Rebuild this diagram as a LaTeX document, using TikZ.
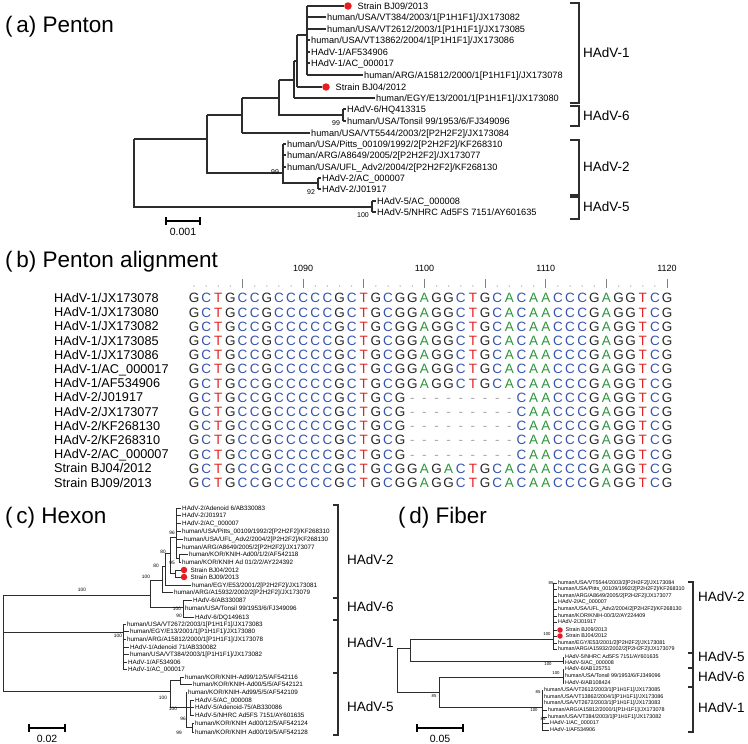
\documentclass[tikz,border=0pt]{standalone}
\usepackage{fontspec}
\setmainfont{Liberation Sans}
\usepackage{tikz}
\usetikzlibrary{positioning}
\definecolor{treegray}{RGB}{45,45,45}
\definecolor{strainred}{RGB}{230,30,36}
\definecolor{baseG}{RGB}{40,40,40}
\definecolor{baseC}{RGB}{55,85,175}
\definecolor{baseT}{RGB}{225,35,35}
\definecolor{baseA}{RGB}{45,150,60}
\definecolor{gapgray}{RGB}{170,170,170}

\tikzset{
  paneltitle/.style={anchor=west, inner sep=0pt, text height=16pt, text depth=0pt, font=\fontsize{22.5}{24}\selectfont},
  branch/.style={draw=treegray, line width=1.1pt},
  thinbranch/.style={draw=treegray, line width=0.85pt},
  leafa/.style={anchor=west, inner sep=1pt, text height=6.6pt, text depth=0pt, font=\fontsize{9.2}{10}\selectfont},
  leafc/.style={anchor=west, inner sep=1pt, text height=4.5pt, text depth=0pt, font=\fontsize{6.3}{7}\selectfont},
  leafd/.style={anchor=west, inner sep=1pt, text height=3.9pt, text depth=0pt, font=\fontsize{5.4}{6}\selectfont},
  boota/.style={inner sep=0pt, font=\fontsize{7}{8}\selectfont},
  bootc/.style={inner sep=0pt, font=\fontsize{4.8}{5}\selectfont},
  bootd/.style={inner sep=0pt, font=\fontsize{4.3}{5}\selectfont},
  strain/.style={circle, fill=strainred, inner sep=0pt},
  clade/.style={anchor=west, inner sep=0pt, text height=9.7pt, text depth=0pt, font=\fontsize{13.5}{15}\selectfont},
  bracket/.style={draw=treegray, line width=1.4pt},
  scalebar/.style={draw=black, line width=2.3pt},
  scaletick/.style={draw=black, line width=1.2pt},
  scalelabel/.style={inner sep=0pt, font=\fontsize{10.5}{12}\selectfont},
  seqname/.style={anchor=west, inner sep=0pt, text height=9.1pt, text depth=0pt, font=\fontsize{12.7}{14}\selectfont},
  rulernum/.style={inner sep=0pt, font=\fontsize{9}{10}\selectfont},
  rulertick/.style={draw=gray, line width=0.8pt},
  base/.style={inner sep=0pt, text height=9.7pt, text depth=0pt, font=\fontsize{13.5}{15}\selectfont},
  base G/.style={text=baseG},
  base C/.style={text=baseC},
  base T/.style={text=baseT},
  base A/.style={text=baseA},
  base -/.style={text=gapgray},
}

% aligned bases, columns 1081--1120
\newcommand{\seqone}{G,C,T,G,C,C,G,C,C,C,C,C,G,C,T,G,C,G,G,A,G,G,C,T,G,C,A,C,A,A,C,C,C,G,A,G,G,T,C,G}
\newcommand{\seqtwo}{G,C,T,G,C,C,G,C,C,C,C,C,G,C,T,G,C,G,-,-,-,-,-,-,-,-,-,C,A,A,C,C,C,G,A,G,G,T,C,G}
\newcommand{\seqbjf}{G,C,T,G,C,C,G,C,C,C,C,C,G,C,T,G,C,G,G,A,G,A,C,T,G,C,A,C,A,A,C,C,C,G,A,G,G,T,C,G}

% one alignment row: row number, label, bases
\newcommand{\seqrow}[3]{%
  \node[seqname] (row#1) at (54,{298+(#1-1)*14.2}) {#2};
  \foreach \nt [count=\col] in #3 {
    \node[base, base \nt] at ({194+(\col-1)*12.13},{298+(#1-1)*14.2}) {\nt};
  }}

\begin{document}
\begin{tikzpicture}[x=1pt, y=-1pt]
  \useasboundingbox (0,0) rectangle (748,744);
  \fill[white] (0,0) rectangle (748,744);

  % (a) Penton tree
  \node[paneltitle] (atitle) at (5,24) {(\,a) Penton};
  \foreach \jx/\ex/\yy/\lab [count=\idx] in {
    307/326/17/{human/USA/VT384/2003/1[P1H1F1]/JX173082},
    307/326/29/{human/USA/VT2612/2003/1[P1H1F1]/JX173085},
    307/310/40/{human/USA/VT13862/2004/1[P1H1F1]/JX173086},
    307/310/52/{HAdV-1/AF534906},
    307/310/63/{HAdV-1/AC\_000017},
    307/363/75/{human/ARG/A15812/2000/1[P1H1F1]/JX173078},
    294/375/98/{human/EGY/E13/2001/1[P1H1F1]/JX173080},
    343/346/109/{HAdV-6/HQ413315},
    343/346/121/{human/USA/Tonsil 99/1953/6/FJ349096},
    242/310/133/{human/USA/VT5544/2003/2[P2H2F2]/JX173084},
    283/286/144/{human/USA/Pitts\_00109/1992/2[P2H2F2]/KF268310},
    283/286/155/{human/ARG/A8649/2005/2[P2H2F2]/JX173077},
    283/286/167/{human/USA/UFL\_Adv2/2004/2[P2H2F2]/KF268130},
    318/321/178/{HAdV-2/AC\_000007},
    318/321/189/{HAdV-2/J01917},
    372/376/201/{HAdV-5/AC\_000008},
    372/376/212/{HAdV-5/NHRC Ad5FS 7151/AY601635}}{
    \node[leafa] (a\idx) at (\ex,\yy) {\lab};
    \draw[branch] (\jx,\yy) -- (a\idx.west);
  }
  \node[strain, minimum size=7.5pt] (adot1) at (348,6) {};
  \node[leafa, right=4.5pt of adot1] (abj09) {Strain BJ09/2013};
  \draw[branch] (307,6) -- (adot1.west);
  \node[strain, minimum size=7.5pt] (adot2) at (326,87) {};
  \node[leafa, right=4.5pt of adot2] (abj04) {Strain BJ04/2012};
  \draw[branch] (297,87) -- (adot2.west);
  \draw[branch] (307,6) -- (307,75);
  \draw[branch] (297,35) -- (307,35);
  \draw[branch] (297,35) -- (297,87);
  \draw[branch] (294,61) -- (297,61);
  \draw[branch] (294,61) -- (294,98);
  \draw[branch] (279,80) -- (294,80);
  \draw[branch] (279,80) -- (279,115) -- (343,115);
  \draw[branch] (343,109) -- (343,121);
  \draw[branch] (242,98) -- (279,98);
  \draw[branch] (242,98) -- (242,133);
  \draw[branch] (207,115) -- (242,115);
  \draw[branch] (207,115) -- (207,173) -- (283,173);
  \draw[branch] (283,144) -- (283,183) -- (318,183);
  \draw[branch] (318,178) -- (318,189);
  \draw[branch] (134,139) -- (207,139);
  \draw[branch] (134,139) -- (134,207) -- (372,207);
  \draw[branch] (372,201) -- (372,212);
  \node[boota] (ab1) at (336,123) {99};
  \node[boota] (ab2) at (275,172) {99};
  \node[boota] (ab3) at (311,192) {92};
  \node[boota] (ab4) at (363,215) {100};
  % scale bar
  \draw[scalebar] (166,221) -- (200,221);
  \draw[scaletick] (166,217) -- (166,225);
  \draw[scaletick] (200,217) -- (200,225);
  \node[scalelabel] (ascale) at (183,232) {0.001};
  % groups
  \draw[bracket] (570,3) -- (579,3) -- (579,103) -- (570,103);
  \draw[bracket] (570,106) -- (579,106) -- (579,126) -- (570,126);
  \draw[bracket] (570,140) -- (579,140) -- (579,195) -- (570,195);
  \draw[bracket] (570,197) -- (579,197) -- (579,219) -- (570,219);
  \node[clade] (ag1) at (583,53) {HAdV-1};
  \node[clade] (ag6) at (583,116) {HAdV-6};
  \node[clade] (ag2) at (583,167) {HAdV-2};
  \node[clade] (ag5) at (583,207) {HAdV-5};

  % (b) Penton alignment
  \node[paneltitle] (btitle) at (5,259) {(\,b) Penton alignment};
  \foreach \col in {1,...,40}{
    \pgfmathtruncatemacro\rem{mod(1080+\col,5)}
    \ifnum\rem=0
      \draw[rulertick] ({194+(\col-1)*12.13},279) -- ++(0,9);
    \else
      \fill[gapgray] ({194+(\col-1)*12.13},286) circle (0.75);
    \fi
  }
  \foreach \num/\col in {1090/10,1100/20,1110/30,1120/40}
    \node[rulernum] (r\num) at ({194+(\col-1)*12.13},268) {\num};
  \seqrow{1}{HAdV-1/JX173078}{\seqone}
  \seqrow{2}{HAdV-1/JX173080}{\seqone}
  \seqrow{3}{HAdV-1/JX173082}{\seqone}
  \seqrow{4}{HAdV-1/JX173085}{\seqone}
  \seqrow{5}{HAdV-1/JX173086}{\seqone}
  \seqrow{6}{HAdV-1/AC\_000017}{\seqone}
  \seqrow{7}{HAdV-1/AF534906}{\seqone}
  \seqrow{8}{HAdV-2/J01917}{\seqtwo}
  \seqrow{9}{HAdV-2/JX173077}{\seqtwo}
  \seqrow{10}{HAdV-2/KF268130}{\seqtwo}
  \seqrow{11}{HAdV-2/KF268310}{\seqtwo}
  \seqrow{12}{HAdV-2/AC\_000007}{\seqtwo}
  \seqrow{13}{Strain BJ04/2012}{\seqbjf}
  \seqrow{14}{Strain BJ09/2013}{\seqone}

  % (c) Hexon tree
  \node[paneltitle] (ctitle) at (5,515) {(\,c) Hexon};
  \foreach \jx/\ex/\yy/\lab [count=\idx] in {
    176/181/508/{HAdV-2/Adenoid 6/AB330083},
    176/181/515/{HAdV-2/J01917},
    176/181/523/{HAdV-2/AC\_000007},
    176/181/531/{human/USA/Pitts\_00109/1992/2[P2H2F2]/KF268310},
    176/183/539/{human/USA/UFL\_Adv2/2004/2[P2H2F2]/KF268130},
    176/181/547/{human/ARG/A8649/2005/2[P2H2F2]/JX173077},
    179/188/554/{human/KOR/KNIH-Ad00/1/2/AF542118},
    179/181/562/{human/KOR/KNIH Ad 01/2/2/AY224392},
    165/191/585/{human/EGY/E53/2001/2[P2H2F2]/JX173081},
    162/173/592/{human/ARG/A15932/2002/2[P2H2F2]/JX173079},
    183/192/600/{HAdV-6/AB330087},
    183/184/608/{human/USA/Tonsil 99/1953/6/FJ349096},
    183/194/617/{HAdV-6/DQ149613},
    123/126/624/{human/USA/VT2672/2003/1[P1H1F1]/JX173083},
    123/129/631/{human/EGY/E13/2001/1[P1H1F1]/JX173080},
    123/126/639/{human/ARG/A15812/2000/1[P1H1F1]/JX173078},
    123/129/647/{HAdV-1/Adenoid 71/AB330082},
    123/129/654/{human/USA/VT384/2003/1[P1H1F1]/JX173082},
    123/127/662/{HAdV-1/AF534906},
    123/127/669/{HAdV-1/AC\_000017},
    180/184/677/{human/KOR/KNIH-Ad99/12/5/AF542116},
    180/192/684/{human/KOR/KNIH-Ad00/5/5/AF542121},
    186/187/692/{human/KOR/KNIH-Ad99/5/5/AF542109},
    190/194/700/{HAdV-5/AC\_000008},
    190/194/707/{HAdV-5/Adenoid-75/AB330086},
    190/194/715/{HAdV-5/NHRC Ad5FS 7151/AY601635},
    192/194/723/{human/KOR/KNIH Ad00/12/5/AF542124},
    192/194/732/{human/KOR/KNIH Ad00/19/5/AF542128}}{
    \node[leafc] (c\idx) at (\ex,\yy) {\lab};
    \draw[thinbranch] (\jx,\yy) -- (c\idx.west);
  }
  \node[strain, minimum size=6.5pt] (cdot1) at (184,570) {};
  \node[leafc, right=2pt of cdot1] (cbj04) {Strain BJ04/2012};
  \draw[thinbranch] (175,570) -- (cdot1.west);
  \node[strain, minimum size=6.5pt] (cdot2) at (184,577) {};
  \node[leafc, right=2pt of cdot2] (cbj09) {Strain BJ09/2013};
  \draw[thinbranch] (175,577) -- (cdot2.west);
  \draw[thinbranch] (3,595) -- (3,691);
  \draw[thinbranch] (3,595) -- (150,595);
  \draw[thinbranch] (150,580) -- (150,607);
  \draw[thinbranch] (150,580) -- (162,580);
  \draw[thinbranch] (150,607) -- (183,607);
  \draw[thinbranch] (183,600) -- (183,617);
  \draw[thinbranch] (162,566) -- (162,592);
  \draw[thinbranch] (162,566) -- (165,566);
  \draw[thinbranch] (165,553) -- (165,585);
  \draw[thinbranch] (165,553) -- (170,553);
  \draw[thinbranch] (170,537) -- (170,573) -- (175,573);
  \draw[thinbranch] (175,570) -- (175,577);
  \draw[thinbranch] (170,537) -- (176,537);
  \draw[thinbranch] (176,508) -- (176,558) -- (179,558);
  \draw[thinbranch] (179,554) -- (179,562);
  \draw[thinbranch] (3,632) -- (123,632);
  \draw[thinbranch] (123,624) -- (123,669);
  \draw[thinbranch] (3,691) -- (170,691);
  \draw[thinbranch] (170,680) -- (170,707);
  \draw[thinbranch] (170,680) -- (180,680);
  \draw[thinbranch] (180,677) -- (180,684);
  \draw[thinbranch] (170,707) -- (190,707);
  \draw[thinbranch] (186,692) -- (186,727) -- (192,727);
  \draw[thinbranch] (190,700) -- (190,715);
  \draw[thinbranch] (192,723) -- (192,732);
  \foreach \bx/\by/\bv [count=\idx] in {82/590/100, 146/577/100, 156/566/80, 163/552/80,
      172/533/96, 172/563/95, 177/609/100, 179/616/90, 118/636/100,
      163/698/100, 173/709/100, 183/719/96, 179/733/99}
    \node[bootc] (cb\idx) at (\bx,\by) {\bv};
  % scale bar
  \draw[scalebar] (29,728) -- (65,728);
  \draw[scaletick] (29,724) -- (29,732);
  \draw[scaletick] (65,724) -- (65,732);
  \node[scalelabel] (cscale) at (47,739) {0.02};
  % groups
  \draw[bracket] (333,505) -- (338,505) -- (338,598) -- (333,598);
  \draw[bracket] (333,598) -- (338,598) -- (338,620) -- (333,620);
  \draw[bracket] (333,620) -- (338,620) -- (338,673) -- (333,673);
  \draw[bracket] (333,673) -- (338,673) -- (338,735) -- (333,735);
  \node[clade] (cg2) at (347,560) {HAdV-2};
  \node[clade] (cg6) at (347,607) {HAdV-6};
  \node[clade] (cg1) at (347,643) {HAdV-1};
  \node[clade] (cg5) at (347,707) {HAdV-5};

  % (d) Fiber tree
  \node[paneltitle] (dtitle) at (398,515) {(\,d) Fiber};
  \foreach \jx/\ex/\yy/\lab [count=\idx] in {
    553/557/583/{human/USA/VT5544/2003/2[P2H2F2]/JX173084},
    553/557/589/{human/USA/Pitts\_00109/1992/2[P2H2F2]/KF268310},
    553/557/596/{human/ARG/A8649/2005/2[P2H2F2]/JX173077},
    553/557/602/{HAdV-2/AC\_000007},
    553/557/609/{human/USA/UFL\_Adv2/2004/2[P2H2F2]/KF268130},
    553/557/616/{human/KOR/KNIH-00/3/2/AY224409},
    553/557/622/{HAdV-2/J01917},
    553/557/643/{human/EGY/E53/2001/2[P2H2F2]/JX173081},
    553/557/649/{human/ARG/A15932/2002/2[P2H2F2]/JX173079},
    563/564/657/{HAdV-5/NHRC Ad5FS 7151/AY601635},
    563/564/663/{HAdV-5/AC\_000008},
    563/564/669/{HAdV-6/AB125751},
    563/564/676/{human/USA/Tonsil 99/1953/6/FJ349096},
    563/564/683/{HAdV-6/AB108424},
    542/543/690/{human/USA/VT2612/2003/1[P1H1F1]/JX173085},
    542/543/697/{human/USA/VT13862/2004/1[P1H1F1]/JX173086},
    542/543/703/{human/USA/VT2672/2003/1[P1H1F1]/JX173083},
    542/547/710/{human/ARG/A15812/2000/1[P1H1F1]/JX173078},
    542/547/717/{human/USA/VT384/2003/1[P1H1F1]/JX173082},
    542/549/723/{HAdV-1/AC\_000017},
    542/549/730/{HAdV-1/AF534906}}{
    \node[leafd] (d\idx) at (\ex,\yy) {\lab};
    \draw[thinbranch] (\jx,\yy) -- (d\idx.west);
  }
  \node[strain, minimum size=5.5pt] (ddot1) at (560,630) {};
  \node[leafd, right=1.5pt of ddot1] (dbj09) {Strain BJ09/2013};
  \draw[thinbranch] (553,630) -- (ddot1.west);
  \node[strain, minimum size=5.5pt] (ddot2) at (560,636) {};
  \node[leafd, right=1.5pt of ddot2] (dbj04) {Strain BJ04/2012};
  \draw[thinbranch] (553,636) -- (ddot2.west);
  \draw[thinbranch] (397,648) -- (397,692);
  \draw[thinbranch] (397,648) -- (410,648);
  \draw[thinbranch] (410,639) -- (410,661);
  \draw[thinbranch] (410,639) -- (553,639);
  \draw[thinbranch] (410,661) -- (563,661);
  \draw[thinbranch] (563,657) -- (563,663);
  \draw[thinbranch] (553,583) -- (553,649);
  \draw[thinbranch] (397,692) -- (439,692);
  \draw[thinbranch] (439,677) -- (439,707);
  \draw[thinbranch] (439,677) -- (563,677);
  \draw[thinbranch] (563,669) -- (563,683);
  \draw[thinbranch] (439,707) -- (542,707);
  \draw[thinbranch] (542,690) -- (542,730);
  \foreach \bx/\by/\bv [count=\idx] in {551/583/85, 547/634/100, 548/664/100, 556/673/100,
      434/696/85, 538/692/85, 534/710/100, 543/719/85}
    \node[bootd] (db\idx) at (\bx,\by) {\bv};
  % scale bar
  \draw[scalebar] (417,728) -- (463,728);
  \draw[scaletick] (417,724) -- (417,732);
  \draw[scaletick] (463,724) -- (463,732);
  \node[scalelabel] (dscale) at (440,739) {0.05};
  % groups
  \draw[bracket] (688,582) -- (693,582) -- (693,653) -- (688,653);
  \draw[bracket] (688,653) -- (693,653) -- (693,668) -- (688,668);
  \draw[bracket] (688,668) -- (693,668) -- (693,687) -- (688,687);
  \draw[bracket] (688,687) -- (693,687) -- (693,732) -- (688,732);
  \node[clade] (dg2) at (698,597) {HAdV-2};
  \node[clade] (dg5) at (698,657) {HAdV-5};
  \node[clade] (dg6) at (698,677) {HAdV-6};
  \node[clade] (dg1) at (698,708) {HAdV-1};
\end{tikzpicture}
\end{document}
